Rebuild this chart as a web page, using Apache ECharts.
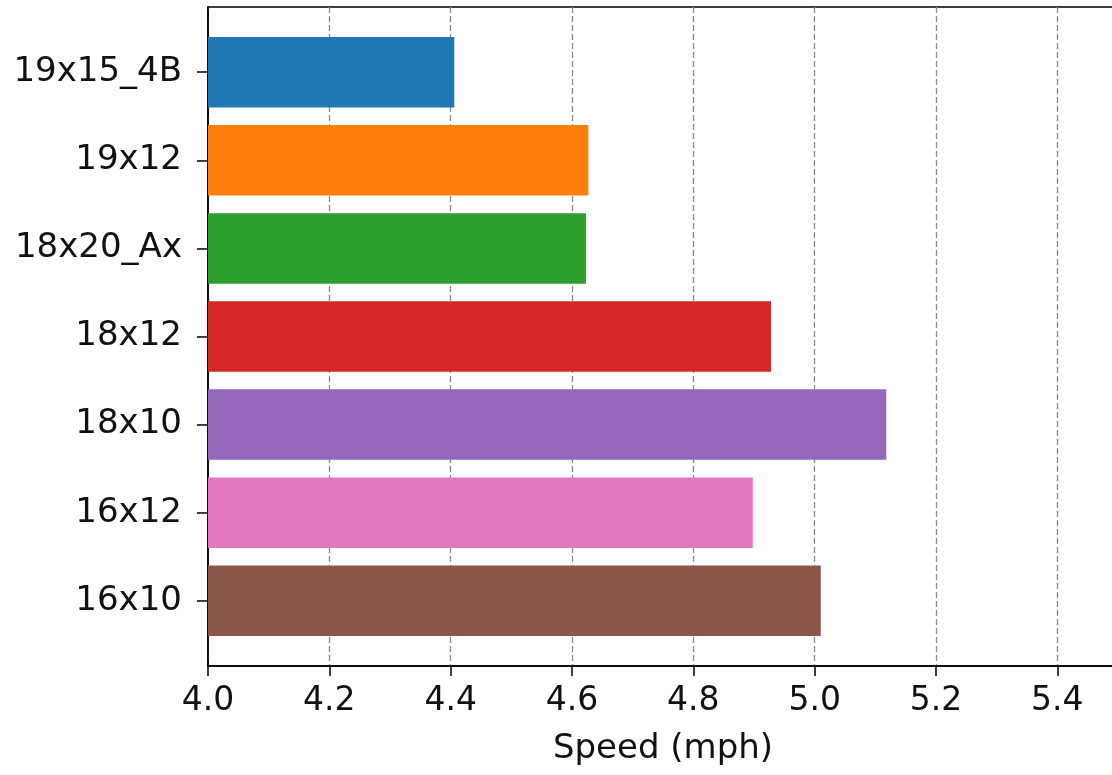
<!DOCTYPE html>
<html>
<head>
<meta charset="utf-8">
<script src="https://cdn.jsdelivr.net/npm/echarts@6/dist/echarts.min.js"></script>
<style>
html,body{margin:0;padding:0;background:#fff;}
#chart{width:1112px;height:775px;}
</style>
</head>
<body>
<div id="chart"></div>
<script>
// Categories, bottom to top (as drawn on the y axis)
const categories = ['16x10', '16x12', '18x10', '18x12', '18x20_Ax', '19x12', '19x15_4B'];
const speeds = [5.01, 4.898, 5.118, 4.928, 4.623, 4.627, 4.406];
const barColors = ['#8c564b', '#e377c2', '#9467bd', '#d62728', '#2ca02c', '#ff7f0e', '#1f77b4'];
const xMin = 4.0, xMax = 5.5, xStep = 0.2;
const xTickLabels = ['4.0', '4.2', '4.4', '4.6', '4.8', '5.0', '5.2', '5.4'];
const xAxisTitle = 'Speed (mph)';

const FONT = 'DejaVu Sans';
const chart = echarts.init(document.getElementById('chart'), null, {renderer: 'canvas'});

const plotLeft = 208, plotTop = 7, plotWidth = 910, plotHeight = 659;
const unit = plotHeight / (categories.length - 1 + 0.8 + 2 * 0.05 * (categories.length - 1 + 0.8));
const pad = (0.05 * (categories.length - 1 + 0.8)) - 0.1; // margin beyond band edge

chart.setOption({
  animation: false,
  backgroundColor: '#fff',
  grid: [
    {left: plotLeft, top: plotTop, width: plotWidth, height: plotHeight, outerBoundsMode: 'none',
     show: true, borderColor: '#000', borderWidth: 1.6, backgroundColor: 'transparent', containLabel: false},
    {left: plotLeft, top: plotTop + pad * unit, width: plotWidth, height: categories.length * unit,
     outerBoundsMode: 'none', containLabel: false}
  ],
  xAxis: [
    {
      type: 'value', gridIndex: 0, min: xMin, max: xMax, interval: xStep,
      axisLine: {show: true, lineStyle: {color: '#000', width: 1.6}},
      axisTick: {show: true, length: 10, lineStyle: {color: '#000', width: 1.5}},
      axisLabel: {
        show: true, margin: 19, fontFamily: FONT, fontSize: 33, color: '#111',
        formatter: function (v) {
          const i = Math.round((v - xMin) / xStep);
          return (Math.abs(xMin + i * xStep - v) < 1e-6 && i < xTickLabels.length) ? xTickLabels[i] : '';
        }
      },
      splitLine: {show: true, lineStyle: {color: '#8a8a8a', width: 1.3, type: [6, 3]}},
      name: xAxisTitle, nameLocation: 'middle', nameGap: 66,
      nameTextStyle: {fontFamily: FONT, fontSize: 34, color: '#111'}
    },
    {
      type: 'value', gridIndex: 1, min: xMin, max: xMax, interval: xStep, show: false
    }
  ],
  yAxis: [
    {
      type: 'value', gridIndex: 0, min: 0, max: 1,
      axisLine: {show: true, onZero: false, lineStyle: {color: '#000', width: 1.6}},
      axisTick: {show: false}, axisLabel: {show: false}, splitLine: {show: false}
    },
    {
      type: 'category', gridIndex: 1, data: categories,
      axisLine: {show: false},
      axisTick: {show: true, alignWithLabel: true, length: 11, lineStyle: {color: '#000', width: 1.5}},
      axisLabel: {margin: 26, fontFamily: FONT, fontSize: 34, color: '#111'},
      splitLine: {show: false}
    }
  ],
  series: [{
    type: 'bar', xAxisIndex: 1, yAxisIndex: 1,
    barWidth: '80%',
    data: speeds.map((v, i) => ({value: v, itemStyle: {color: barColors[i]}}))
  }]
});
</script>
</body>
</html>
